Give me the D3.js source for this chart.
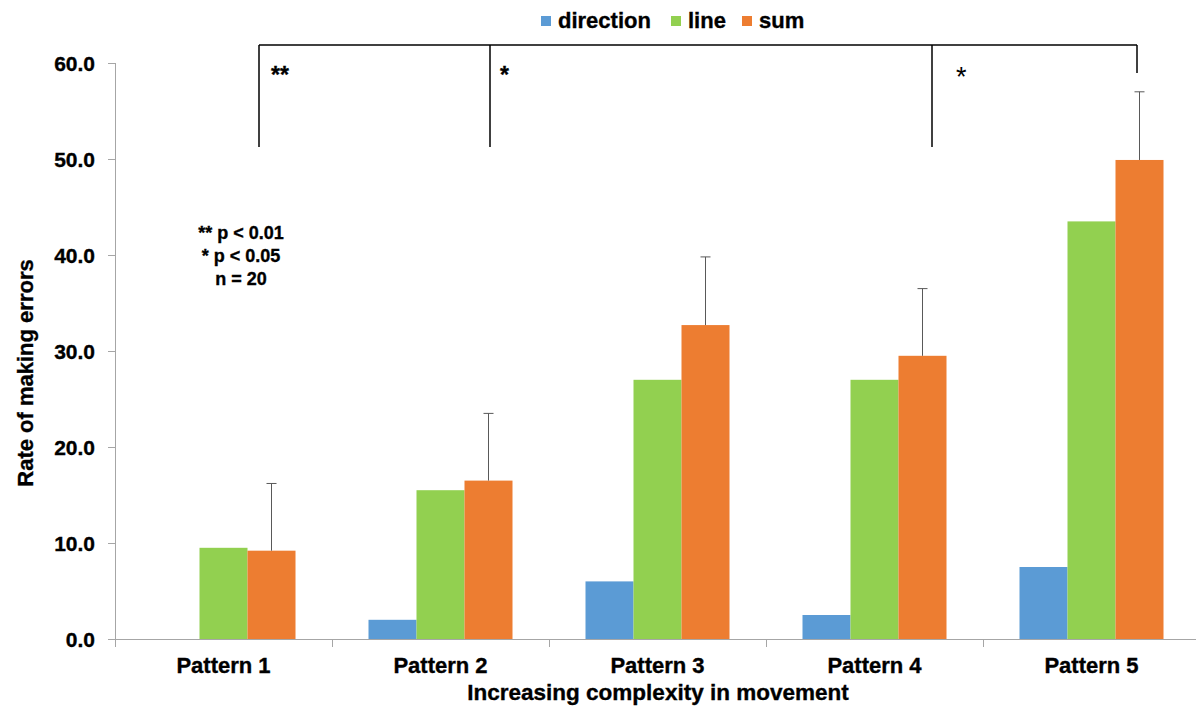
<!DOCTYPE html>
<html><head><meta charset="utf-8">
<script src="https://cdn.jsdelivr.net/npm/d3@7"></script>
<style>
body{margin:0;background:#fff;}
text{font-family:"Liberation Sans",Arial,sans-serif;font-weight:bold;fill:#000;stroke:#000;stroke-width:0.35px;}
</style></head>
<body><svg id="c" width="1196" height="709"></svg>
<script>
const categories = ["Pattern 1","Pattern 2","Pattern 3","Pattern 4","Pattern 5"];
const seriesNames = ["direction","line","sum"];
const direction = [0.0, 2.0, 6.0, 2.5, 7.5];
const line = [9.5, 15.5, 27.0, 27.0, 43.5];
const sum = [9.2, 16.5, 32.7, 29.5, 49.9];
const sumError = [7.0, 7.0, 7.1, 7.0, 7.1];
const yTicks = [0, 10, 20, 30, 40, 50, 60];
const colors = ["#5b9bd5", "#92d050", "#ed7d31"];
const legendNote = ["** p < 0.01", "* p < 0.05", "n = 20"];

const svg = d3.select("#c");
const mLeft = 115, mRight = 1200, mTop = 63, mBottom = 639;
const x = d3.scaleBand().domain(categories).range([mLeft, mRight]);
const y = d3.scaleLinear().domain([0, 60]).range([mBottom, mTop]);
const groupW = 144;
const xs = d3.scaleBand().domain(seriesNames).range([0, groupW]);
const data = [direction, line, sum];

// axes
const axisColor = "#a6a6a6";
svg.append("line").attr("x1", mLeft + 0.5).attr("x2", mLeft + 0.5).attr("y1", y(60)).attr("y2", y(0)).attr("stroke", axisColor);
svg.selectAll(".yt").data(yTicks).join("line").attr("x1", mLeft - 7).attr("x2", mLeft)
  .attr("y1", d => Math.round(y(d)) + 0.5).attr("y2", d => Math.round(y(d)) + 0.5).attr("stroke", axisColor);
svg.selectAll(".yl").data(yTicks).join("text").attr("x", 95).attr("y", d => y(d) + 8)
  .attr("text-anchor", "end").style("font-size", "21px").text(d => d.toFixed(1));

// bars
seriesNames.forEach((s, si) => {
  svg.append("g").selectAll("rect").data(categories).join("rect")
    .attr("x", c => x(c) + x.bandwidth() / 2 - groupW / 2 + xs(s))
    .attr("width", xs.bandwidth())
    .attr("y", (c, i) => y(data[si][i]))
    .attr("height", (c, i) => y(0) - y(data[si][i]))
    .attr("fill", colors[si]);
});

// error bars on sum
categories.forEach((c, i) => {
  const cx = x(c) + x.bandwidth() / 2 - groupW / 2 + xs("sum") + xs.bandwidth() / 2;
  const yt = y(sum[i] + sumError[i]);
  svg.append("line").attr("x1", cx).attr("x2", cx).attr("y1", y(sum[i])).attr("y2", yt).attr("stroke", "#595959");
  svg.append("line").attr("x1", cx - 5).attr("x2", cx + 5).attr("y1", yt).attr("y2", yt).attr("stroke", "#595959");
});

// x axis
svg.append("line").attr("x1", mLeft - 7).attr("x2", 1196).attr("y1", y(0) + 0.5).attr("y2", y(0) + 0.5).attr("stroke", axisColor);
svg.selectAll(".xt").data(categories).join("line").attr("x1", c => x(c) + 0.5).attr("x2", c => x(c) + 0.5)
  .attr("y1", y(0)).attr("y2", y(0) + 8).attr("stroke", axisColor);
svg.selectAll(".xl").data(categories).join("text").attr("x", c => x(c) + x.bandwidth() / 2).attr("y", 673)
  .attr("text-anchor", "middle").style("font-size", "22px").text(c => c);
svg.append("text").attr("x", 658).attr("y", 700).attr("text-anchor", "middle").style("font-size", "22.5px")
  .text("Increasing complexity in movement");
svg.append("text").attr("transform", "translate(33,373) rotate(-90)").attr("text-anchor", "middle")
  .style("font-size", "22px").text("Rate of making errors");

// legend
const lg = [{n: "direction", x: 541}, {n: "line", x: 671}, {n: "sum", x: 742}];
lg.forEach((d, i) => {
  svg.append("rect").attr("x", d.x).attr("y", 16).attr("width", 10).attr("height", 10).attr("fill", colors[i]);
  svg.append("text").attr("x", d.x + 17).attr("y", 28).style("font-size", "22px").text(d.n);
});

// significance brackets
const br = svg.append("g").attr("stroke", "#000").attr("stroke-width", 1.5).attr("fill", "none");
br.append("line").attr("x1", 259).attr("x2", 1137).attr("y1", 45).attr("y2", 45);
[[259, 147], [490, 147], [932, 147], [1137, 73]].forEach(([bx, by]) => {
  br.append("line").attr("x1", bx).attr("x2", bx).attr("y1", 45).attr("y2", by);
});
svg.append("text").attr("x", 271).attr("y", 83).style("font-size", "23px").text("**");
svg.append("text").attr("x", 500).attr("y", 83).style("font-size", "23px").text("*");
svg.append("text").attr("x", 956).attr("y", 86).style("font-size", "27px").style("font-weight", "normal")
  .style("stroke-width", "0").text("*");

// note
legendNote.forEach((t, i) => {
  svg.append("text").attr("x", 241).attr("y", 239 + i * 23).attr("text-anchor", "middle").style("font-size", "18px").text(t);
});
</script></body></html>
